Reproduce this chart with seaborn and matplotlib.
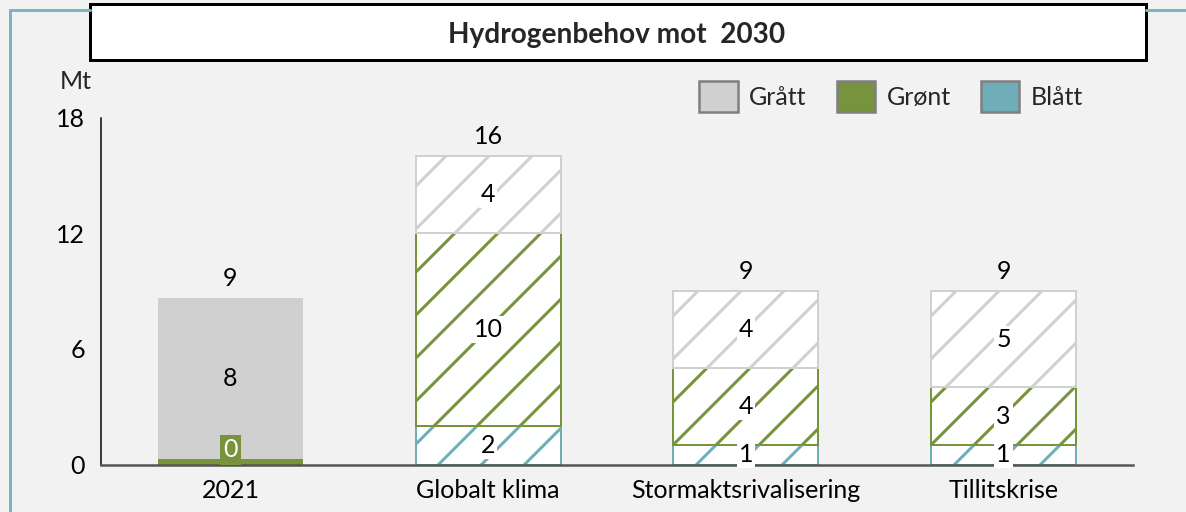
import numpy as np
import seaborn as sns
import matplotlib.pyplot as plt
from matplotlib.patches import Patch, Rectangle
from matplotlib.lines import Line2D

# data (Mt)
categories = ["2021", "Globalt klima", "Stormaktsrivalisering", "Tillitskrise"]
blatt = [0, 2, 1, 1]
gront = [0.3, 10, 4, 3]
gratt = [8.35, 4, 4, 5]
legend_order = ["Grått", "Grønt", "Blått"]
title = "Hydrogenbehov mot  2030"
unit = "Mt"
yticks = [0, 6, 12, 18]

colors = {"Grått": "#d0d0d0", "Grønt": "#77933c", "Blått": "#6fadb8"}
bg = "#f2f2f2"
teal = "#7ab4be"

# high dpi so the hatch spacing matches the original
DPI = 258
W, H = 1186, 512


def pt(px):
    return px * 72 / DPI


sns.set_theme(style="white")
plt.rcParams["font.family"] = ["Lato", "DejaVu Sans"]
plt.rcParams["hatch.linewidth"] = pt(3)
fs = pt(25)

fig = plt.figure(figsize=(W / DPI, H / DPI), dpi=DPI, facecolor=bg)
ax = fig.add_axes([101 / W, 1 - 464.5 / H, 1032 / W, 347 / H])
ax.set_facecolor("none")

# stacked bars, bottom to top
layers = {"Blått": blatt, "Grønt": gront, "Grått": gratt}
bottom = np.zeros(len(categories))
containers = {}
for name, vals in layers.items():
    sns.barplot(x=categories, y=vals, bottom=bottom.copy(), color=colors[name],
                saturation=1, width=0.563, errorbar=None, linewidth=0, ax=ax)
    containers[name] = ax.containers[-1]
    bottom += np.array(vals)
totals = bottom

# scenarios (all but 2021) are hatched
for name, cont in containers.items():
    for i, p in enumerate(cont.patches):
        if i > 0:
            p.set_facecolor("white")
            p.set_edgecolor(colors[name])
            p.set_hatch("//")
            p.set_linewidth(pt(2))

# segment labels
for name, vals in layers.items():
    for i, (p, v) in enumerate(zip(containers[name].patches, vals)):
        if v == 0:
            continue
        cx = p.get_x() + p.get_width() / 2
        if v < 1:
            ax.annotate(f"{v:.0f}", xy=(cx, 0), xytext=(0, pt(3.5)),
                        textcoords="offset points", ha="center", va="bottom",
                        color="white", fontsize=fs,
                        bbox=dict(boxstyle="square,pad=0.14", fc=colors[name], ec="none"))
            continue
        cy = p.get_y() + p.get_height() / 2
        box = None if i == 0 else dict(boxstyle="square,pad=0.08", fc="white", ec="none")
        ax.text(cx, cy, f"{v:.0f}", ha="center", va="center", fontsize=fs,
                color="black", bbox=box)

# totals on top
ax.bar_label(containers["Grått"], labels=[f"{t:.0f}" for t in totals],
             padding=pt(8), fontsize=fs, color="black")

ax.set_xlim(-0.5025, 3.502)
ax.set_ylim(0, 18)
ax.set_yticks(yticks)
ax.set_xlabel("")
ax.set_ylabel("")
ax.tick_params(axis="y", direction="out", length=pt(8), width=pt(2.5),
               color="black", pad=pt(8), labelsize=fs, labelcolor="black")
ax.tick_params(axis="x", length=0, pad=pt(15), labelsize=fs, labelcolor="black")
for s in ["top", "right"]:
    ax.spines[s].set_visible(False)
ax.spines["left"].set_color("black")
ax.spines["left"].set_linewidth(pt(1.5))
ax.spines["bottom"].set_color("#555555")
ax.spines["bottom"].set_linewidth(pt(2.5))

# legend
handles = [Patch(facecolor=colors[n], edgecolor="#7f7f7f", linewidth=pt(2.5), label=n)
           for n in legend_order]
fig.legend(handles=handles, loc="center left", ncol=3, frameon=False,
           bbox_to_anchor=(699 / W, 1 - 96.5 / H), bbox_transform=fig.transFigure,
           fontsize=fs, handlelength=1.55, handleheight=1.55, handletextpad=0.45,
           columnspacing=1.2, borderpad=0, borderaxespad=0)

# unit label
fig.text(60 / W, 1 - 89 / H, unit, ha="left", va="baseline", fontsize=fs)

# frame decoration and title box
fig.add_artist(Line2D([10 / W, 10 / W], [0, 1 - 10 / H], color=teal, lw=pt(3)))
fig.add_artist(Line2D([10 / W, 90 / W], [1 - 10 / H, 1 - 10 / H], color=teal, lw=pt(3)))
fig.add_artist(Line2D([1146 / W, 1], [1 - 9.5 / H, 1 - 9.5 / H], color=teal, lw=pt(3)))
fig.add_artist(Rectangle((90.5 / W, 1 - 59.5 / H), 1055 / W, 56 / H,
                         transform=fig.transFigure, facecolor="white",
                         edgecolor="black", linewidth=pt(3)))
fig.text(617 / W, 1 - 43 / H, title, ha="center", va="baseline",
         fontsize=pt(28), fontweight="bold")

fig.savefig("out.png", dpi=DPI, facecolor=bg)
